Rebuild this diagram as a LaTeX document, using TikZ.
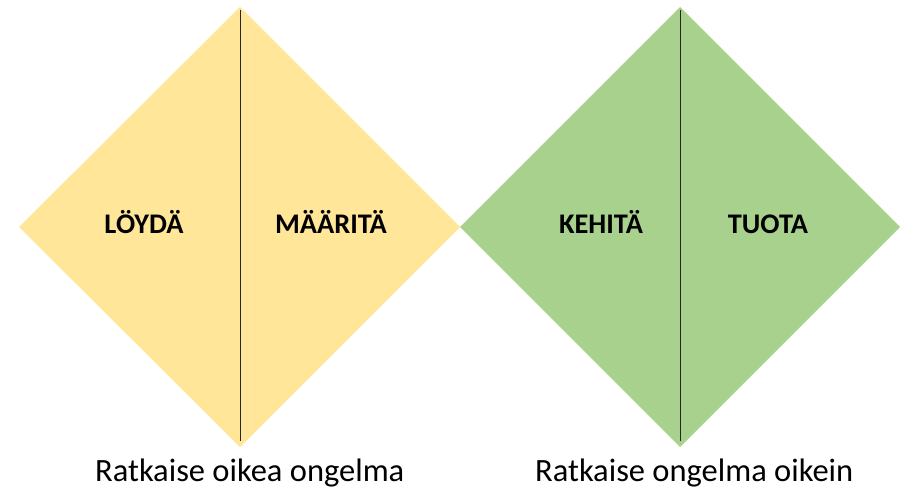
\documentclass[tikz,border=0pt]{standalone}
\usepackage{fontspec}
\setmainfont{Carlito}
\definecolor{findyellow}{HTML}{FFE699}
\definecolor{makegreen}{HTML}{A9D18E}
\begin{document}
\begin{tikzpicture}[x=1pt,y=-1pt,
  phase/.style={font=\bfseries\fontsize{28.4}{32}\selectfont, anchor=base},
  caption/.style={font=\fontsize{32.5}{38}\selectfont, anchor=base west, inner sep=0pt},
  divider/.style={draw=black!85, line width=1pt}]
\useasboundingbox (0,0) rectangle (900,489);
% diamonds
\fill[findyellow] (19,227) coordinate (l1) -- (240,7) coordinate (t1) -- (460,227) coordinate (m) -- (240,447) coordinate (b1) -- cycle;
\fill[makegreen] (460,227) -- (680,7) coordinate (t2) -- (900,227) coordinate (r2) -- (680,447) coordinate (b2) -- cycle;
% dividers
\coordinate (d1a) at (240,10);
\coordinate (d1b) at (240,441);
\coordinate (d2a) at (680,10);
\coordinate (d2b) at (680,441);
\draw[divider] (d1a) -- (d1b);
\draw[divider] (d2a) -- (d2b);
% labels
\node[phase] (loyda) at (144,234) {LÖYDÄ};
\node[phase] (maarita) at (331,234) {MÄÄRITÄ};
\node[phase] (kehita) at (601,234) {KEHITÄ};
\node[phase] (tuota) at (768,234) {TUOTA};
% captions
\node[caption] (cap1) at (95,481) {Ratkaise oikea ongelma};
\node[caption] (cap2) at (535,481) {Ratkaise ongelma oikein};
\end{tikzpicture}
\end{document}
